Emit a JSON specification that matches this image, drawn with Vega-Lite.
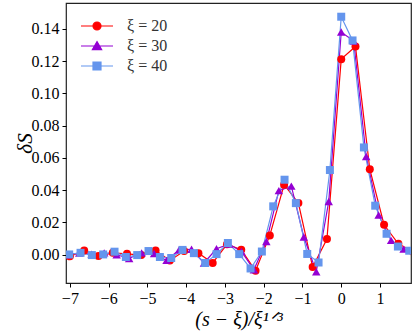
{
  "$schema": "https://vega.github.io/schema/vega-lite/v6.json",
  "autosize": {"type": "none"},
  "width": 345,
  "height": 280,
  "padding": {"left": 66, "top": 3, "right": 5, "bottom": 51},
  "background": "white",
  "config": {
    "view": {"stroke": "#222222", "strokeWidth": 1.2},
    "axis": {"grid": false, "domain": false, "tickColor": "#000000", "tickSize": 4, "tickWidth": 1, "labelColor": "#000000", "titleColor": "#000000", "labelFont": "Liberation Serif", "labelFontSize": 16, "titleFont": "Liberation Serif", "titleFontWeight": "normal", "labelPadding": 3}
  },
  "data": {"values": [
    {"series": "ξ = 20", "x": -7.000, "y": -0.0010},
    {"series": "ξ = 20", "x": -6.631, "y": 0.0027},
    {"series": "ξ = 20", "x": -6.263, "y": -0.0008},
    {"series": "ξ = 20", "x": -5.894, "y": 0.0012},
    {"series": "ξ = 20", "x": -5.526, "y": 0.0006},
    {"series": "ξ = 20", "x": -5.158, "y": -0.0002},
    {"series": "ξ = 20", "x": -4.789, "y": 0.0027},
    {"series": "ξ = 20", "x": -4.421, "y": -0.0035},
    {"series": "ξ = 20", "x": -4.052, "y": 0.0023},
    {"series": "ξ = 20", "x": -3.684, "y": 0.0010},
    {"series": "ξ = 20", "x": -3.316, "y": -0.0051},
    {"series": "ξ = 20", "x": -2.947, "y": 0.0065},
    {"series": "ξ = 20", "x": -2.579, "y": 0.0031},
    {"series": "ξ = 20", "x": -2.210, "y": -0.0099},
    {"series": "ξ = 20", "x": -1.842, "y": 0.0120},
    {"series": "ξ = 20", "x": -1.474, "y": 0.0434},
    {"series": "ξ = 20", "x": -1.105, "y": 0.0320},
    {"series": "ξ = 20", "x": -0.737, "y": -0.0076},
    {"series": "ξ = 20", "x": -0.368, "y": 0.0097},
    {"series": "ξ = 20", "x": 0.000, "y": 0.1212},
    {"series": "ξ = 20", "x": 0.368, "y": 0.1290},
    {"series": "ξ = 20", "x": 0.737, "y": 0.0530},
    {"series": "ξ = 20", "x": 1.105, "y": 0.0186},
    {"series": "ξ = 20", "x": 1.474, "y": 0.0068},
    {"series": "ξ = 20", "x": 1.842, "y": 0.0020},

    {"series": "ξ = 30", "x": -7.080, "y": 0.0000},
    {"series": "ξ = 30", "x": -6.758, "y": 0.0010},
    {"series": "ξ = 30", "x": -6.437, "y": 0.0004},
    {"series": "ξ = 30", "x": -6.115, "y": 0.0012},
    {"series": "ξ = 30", "x": -5.793, "y": 0.0000},
    {"series": "ξ = 30", "x": -5.471, "y": -0.0023},
    {"series": "ξ = 30", "x": -5.149, "y": 0.0012},
    {"series": "ξ = 30", "x": -4.827, "y": 0.0008},
    {"series": "ξ = 30", "x": -4.506, "y": -0.0035},
    {"series": "ξ = 30", "x": -4.184, "y": 0.0030},
    {"series": "ξ = 30", "x": -3.862, "y": 0.0034},
    {"series": "ξ = 30", "x": -3.540, "y": -0.0051},
    {"series": "ξ = 30", "x": -3.218, "y": 0.0037},
    {"series": "ξ = 30", "x": -2.896, "y": 0.0066},
    {"series": "ξ = 30", "x": -2.575, "y": 0.0020},
    {"series": "ξ = 30", "x": -2.253, "y": -0.0093},
    {"series": "ξ = 30", "x": -1.931, "y": 0.0082},
    {"series": "ξ = 30", "x": -1.609, "y": 0.0397},
    {"series": "ξ = 30", "x": -1.287, "y": 0.0425},
    {"series": "ξ = 30", "x": -0.965, "y": 0.0110},
    {"series": "ξ = 30", "x": -0.644, "y": -0.0105},
    {"series": "ξ = 30", "x": -0.322, "y": 0.0330},
    {"series": "ξ = 30", "x": 0.000, "y": 0.1380},
    {"series": "ξ = 30", "x": 0.322, "y": 0.1324},
    {"series": "ξ = 30", "x": 0.644, "y": 0.0609},
    {"series": "ξ = 30", "x": 0.965, "y": 0.0246},
    {"series": "ξ = 30", "x": 1.287, "y": 0.0089},
    {"series": "ξ = 30", "x": 1.609, "y": 0.0035},

    {"series": "ξ = 40", "x": -7.018, "y": 0.0002},
    {"series": "ξ = 40", "x": -6.725, "y": 0.0012},
    {"series": "ξ = 40", "x": -6.433, "y": -0.0002},
    {"series": "ξ = 40", "x": -6.140, "y": 0.0002},
    {"series": "ξ = 40", "x": -5.848, "y": 0.0019},
    {"series": "ξ = 40", "x": -5.556, "y": -0.0014},
    {"series": "ξ = 40", "x": -5.263, "y": -0.0002},
    {"series": "ξ = 40", "x": -4.971, "y": 0.0023},
    {"series": "ξ = 40", "x": -4.678, "y": -0.0014},
    {"series": "ξ = 40", "x": -4.386, "y": -0.0020},
    {"series": "ξ = 40", "x": -4.094, "y": 0.0030},
    {"series": "ξ = 40", "x": -3.801, "y": 0.0010},
    {"series": "ξ = 40", "x": -3.509, "y": -0.0051},
    {"series": "ξ = 40", "x": -3.216, "y": 0.0004},
    {"series": "ξ = 40", "x": -2.924, "y": 0.0073},
    {"series": "ξ = 40", "x": -2.632, "y": 0.0004},
    {"series": "ξ = 40", "x": -2.339, "y": -0.0085},
    {"series": "ξ = 40", "x": -2.047, "y": 0.0020},
    {"series": "ξ = 40", "x": -1.754, "y": 0.0300},
    {"series": "ξ = 40", "x": -1.462, "y": 0.0465},
    {"series": "ξ = 40", "x": -1.170, "y": 0.0320},
    {"series": "ξ = 40", "x": -0.877, "y": 0.0005},
    {"series": "ξ = 40", "x": -0.585, "y": -0.0048},
    {"series": "ξ = 40", "x": -0.292, "y": 0.0525},
    {"series": "ξ = 40", "x": 0.000, "y": 0.1475},
    {"series": "ξ = 40", "x": 0.292, "y": 0.1328},
    {"series": "ξ = 40", "x": 0.585, "y": 0.0665},
    {"series": "ξ = 40", "x": 0.877, "y": 0.0304},
    {"series": "ξ = 40", "x": 1.170, "y": 0.0130},
    {"series": "ξ = 40", "x": 1.462, "y": 0.0051},
    {"series": "ξ = 40", "x": 1.754, "y": 0.0025}
  ]},
  "encoding": {
    "x": {"field": "x", "type": "quantitative",
      "scale": {"domain": [-7.1, 1.8], "nice": false, "zero": false},
      "axis": {"values": [-7, -6, -5, -4, -3, -2, -1, 0, 1], "labelExpr": "replace(datum.label, '-', '−')", "labelFont": "Liberation Serif", "labelFontSize": 16, "title": "(s − ξ)/ξ¹ᐟ³", "titleFont": "Liberation Serif", "titleFontSize": 20, "titleFontStyle": "italic", "titlePadding": 3, "labelFlush": false}},
    "y": {"field": "y", "type": "quantitative",
      "scale": {"domain": [-0.0175, 0.156], "nice": false, "zero": false},
      "axis": {"values": [0, 0.02, 0.04, 0.06, 0.08, 0.1, 0.12, 0.14], "format": ".2f", "labelFont": "Liberation Serif", "labelFontSize": 16, "title": "δS", "titleFont": "Liberation Serif", "titleFontSize": 21, "titleFontStyle": "italic", "titlePadding": -4, "labelFlush": false}},
    "color": {"field": "series", "type": "nominal",
      "scale": {"domain": ["ξ = 20", "ξ = 30", "ξ = 40"], "range": ["#ff0000", "#9400d3", "#6495ed"]},
      "legend": {
        "title": null,
        "orient": "top-left",
        "offset": 14,
        "padding": 0,
        "symbolSize": 256,
        "symbolOffset": 8,
        "labelOffset": 21,
        "rowPadding": 3,
        "labelFont": "Liberation Serif",
        "labelFontSize": 16,
        "labelColor": "#333333",
        "symbolStrokeWidth": 1.2,
        "symbolOpacity": 1,
        "symbolType": {"expr": "datum.value === 'ξ = 20' ? 'M-2,0L2,0M0.5,0A0.5,0.5,0,1,1,-0.5,0A0.5,0.5,0,1,1,0.5,0Z' : datum.value === 'ξ = 30' ? 'M-2,0L2,0M0,-0.55L0.58,0.45L-0.58,0.45Z' : 'M-2,0L2,0M-0.5,-0.5L0.5,-0.5L0.5,0.5L-0.5,0.5Z'"},
        "symbolStrokeColor": {"expr": "scale('color', datum.value)"},
        "symbolFillColor": {"expr": "scale('color', datum.value)"}
      }}
  },
  "layer": [
    {
      "mark": {"type": "line", "strokeWidth": 1.2, "clip": true}
    },
    {
      "transform": [{"filter": "datum.series === 'ξ = 20'"}],
      "mark": {"type": "point", "shape": "circle", "filled": true, "opacity": 1, "size": 64, "clip": true}
    },
    {
      "transform": [{"filter": "datum.series === 'ξ = 30'"}],
      "mark": {"type": "point", "shape": "triangle-up", "filled": true, "opacity": 1, "size": 72, "clip": true}
    },
    {
      "transform": [{"filter": "datum.series === 'ξ = 40'"}],
      "mark": {"type": "point", "shape": "square", "filled": true, "opacity": 1, "size": 64, "clip": true}
    }
  ]
}
